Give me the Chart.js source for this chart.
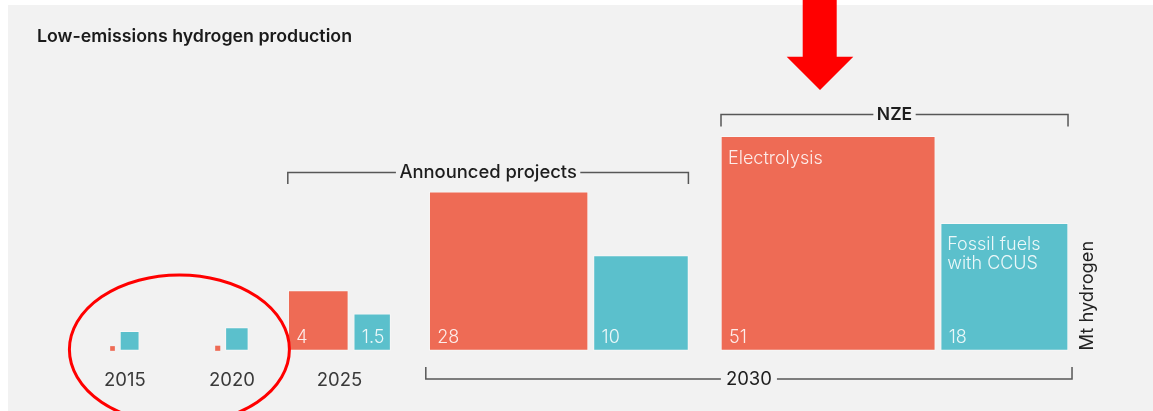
<!DOCTYPE html>
<html>
<head>
<meta charset="utf-8">
<title>Low-emissions hydrogen production</title>
<script src="https://cdn.jsdelivr.net/npm/chart.js@4.4.1/dist/chart.umd.min.js"></script>
<style>
  html, body { margin: 0; padding: 0; background: #fff; }
  canvas { display: block; }
</style>
</head>
<body>
<canvas id="h2-chart" width="1153" height="411"></canvas>
<script>
// Low-emissions hydrogen production (Mt H2). Each square's area stands for its value,
// so the bar height (and width) is drawn from sqrt(value).
const groups = ['2015', '2020', '2025', '2030 Announced projects', '2030 NZE'];
const yearLabels = ['2015', '2020', '2025', '', ''];
const seriesNames = ['Electrolysis', 'Fossil fuels with CCUS'];
const electrolysis = [0.018, 0.022, 4, 28, 51];
const fossilCcus = [0.41, 0.58, 1.5, 10, 18];

// layout
const W = 1153, H = 411;
const BASE_Y = 350.5;        // pixel row of the zero line
const UNIT_PX = 30;          // pixels per sqrt(Mt)
const Y_MAX = 8;
const GAP = 5.5;             // space between the two squares of a group
const groupLeft = [110.5, 215.5, 288.3, 429.3, 721];
const colors = ['#ee6b55', '#5bc0cc'];
const FONT = 'Inter, Roboto, sans-serif';

const datasets = [];
groups.forEach((g, gi) => {
  let left = groupLeft[gi];
  [electrolysis, fossilCcus].forEach((series, si) => {
    const side = Math.sqrt(series[gi]);
    const w = side * UNIT_PX;
    datasets.push({
      label: seriesNames[si] + ' ' + g,
      data: [{ x: left + w / 2, y: side }],
      value: series[gi],
      group: gi,
      series: si,
      backgroundColor: colors[si],
      borderColor: 'rgba(255,255,255,0.45)',
      borderWidth: w > 10 ? 1 : 0,
      borderSkipped: false,
      grouped: false,
      clip: false,
      // square bars: thickness equals the bar's pixel height on the y scale
      barThickness: (c) => {
        const y = c.chart.scales.y;
        return y.getPixelForValue(0) - y.getPixelForValue(side);
      }
    });
    left += w + GAP;
  });
});

function barBox(chart, gi, si) {
  const el = chart.getDatasetMeta(gi * 2 + si).data[0];
  return { left: el.x - el.width / 2, right: el.x + el.width / 2, top: el.y, bottom: el.base };
}

function bracket(ctx, x1, x2, y, tick, text, font, pad) {
  ctx.font = font;
  const tw = ctx.measureText(text).width;
  const cx = (x1 + x2) / 2;
  ctx.strokeStyle = '#575757';
  ctx.lineWidth = 1.5;
  ctx.beginPath();
  ctx.moveTo(x1, y + tick);
  ctx.lineTo(x1, y);
  ctx.lineTo(cx - tw / 2 - pad, y);
  ctx.moveTo(cx + tw / 2 + pad, y);
  ctx.lineTo(x2, y);
  ctx.lineTo(x2, y + tick);
  ctx.stroke();
  ctx.fillStyle = '#1e1e1e';
  ctx.textAlign = 'center';
  ctx.textBaseline = 'alphabetic';
  ctx.fillText(text, cx, y + 5.5);
}

const decorations = {
  id: 'decorations',
  beforeDraw(chart) {
    const ctx = chart.ctx;
    ctx.save();
    ctx.fillStyle = '#ffffff';
    ctx.fillRect(0, 0, W, H);
    ctx.fillStyle = '#f2f2f2';
    ctx.fillRect(8, 5, W - 8, H - 5);
    ctx.restore();
  },
  afterDatasetsDraw(chart) {
    const ctx = chart.ctx;
    ctx.save();

    // title
    ctx.fillStyle = '#1a1a1a';
    ctx.font = '600 17.8px ' + FONT;
    ctx.textAlign = 'left';
    ctx.textBaseline = 'alphabetic';
    ctx.fillText('Low-emissions hydrogen production', 37, 42);

    // values inside the squares
    ctx.font = '300 18px ' + FONT;
    ctx.fillStyle = 'rgba(255,255,255,0.88)';
    datasets.forEach((ds) => {
      if (ds.value < 1) return;
      const b = barBox(chart, ds.group, ds.series);
      ctx.fillText(String(ds.value), b.left + 8, b.bottom - 8);
    });

    // series names in the NZE squares
    const red = barBox(chart, 4, 0);
    const teal = barBox(chart, 4, 1);
    ctx.fillText('Electrolysis', red.left + 7, red.top + 28);
    ctx.fillText('Fossil fuels', teal.left + 6.5, teal.top + 26.5);
    ctx.fillText('with CCUS', teal.left + 6.5, teal.top + 45.5);

    // year labels under the early groups
    ctx.fillStyle = '#3a3a3a';
    ctx.font = '18.5px ' + FONT;
    ctx.textAlign = 'center';
    yearLabels.forEach((lab, gi) => {
      if (!lab) return;
      const a = barBox(chart, gi, 0), b = barBox(chart, gi, 1);
      ctx.fillText(lab, (a.left + b.right) / 2, 386);
    });

    // brackets
    const g25 = barBox(chart, 2, 0);
    const apR = barBox(chart, 3, 0), apT = barBox(chart, 3, 1);
    bracket(ctx, g25.left - 0.5, apT.right, 172.5, 11.5, 'Announced projects', '500 18.4px ' + FONT, 3.5);
    bracket(ctx, red.left, teal.right, 114.5, 12, 'NZE', '600 17.5px ' + FONT, 3.5);
    bracket(ctx, apR.left - 3.5, teal.right + 4, 379, -12, '2030', '18.5px ' + FONT, 5);

    // unit label
    ctx.translate(1093, BASE_Y);
    ctx.rotate(-Math.PI / 2);
    ctx.fillStyle = '#222';
    ctx.font = '18.3px ' + FONT;
    ctx.textAlign = 'left';
    ctx.textBaseline = 'alphabetic';
    ctx.fillText('Mt hydrogen', 0, 0);
    ctx.restore();
  },
  afterDraw(chart) {
    const ctx = chart.ctx;
    ctx.save();
    // highlight ring round 2015 and 2020
    const a = barBox(chart, 0, 0), b = barBox(chart, 1, 1);
    ctx.strokeStyle = '#ff0000';
    ctx.lineWidth = 3;
    ctx.beginPath();
    ctx.ellipse((a.left + b.right) / 2, BASE_Y - 1, 110, 74.5, 0, 0, Math.PI * 2);
    ctx.stroke();

    // pointer arrow above the NZE bracket
    ctx.fillStyle = '#ff0000';
    ctx.beginPath();
    ctx.moveTo(802.7, 0);
    ctx.lineTo(836.7, 0);
    ctx.lineTo(836.7, 56.7);
    ctx.lineTo(853.3, 56.7);
    ctx.lineTo(820, 90);
    ctx.lineTo(786.7, 56.7);
    ctx.lineTo(802.7, 56.7);
    ctx.closePath();
    ctx.fill();
    ctx.restore();
  }
};

new Chart(document.getElementById('h2-chart'), {
  type: 'bar',
  data: { datasets },
  options: {
    responsive: false,
    animation: false,
    events: [],
    layout: { padding: { left: 0, right: 0, top: BASE_Y - Y_MAX * UNIT_PX, bottom: H - BASE_Y } },
    scales: {
      x: { type: 'linear', min: 0, max: W, offset: false, display: false },
      y: { type: 'linear', min: 0, max: Y_MAX, display: false }
    },
    plugins: { legend: { display: false }, tooltip: { enabled: false } }
  },
  plugins: [decorations]
});
</script>
</body>
</html>
